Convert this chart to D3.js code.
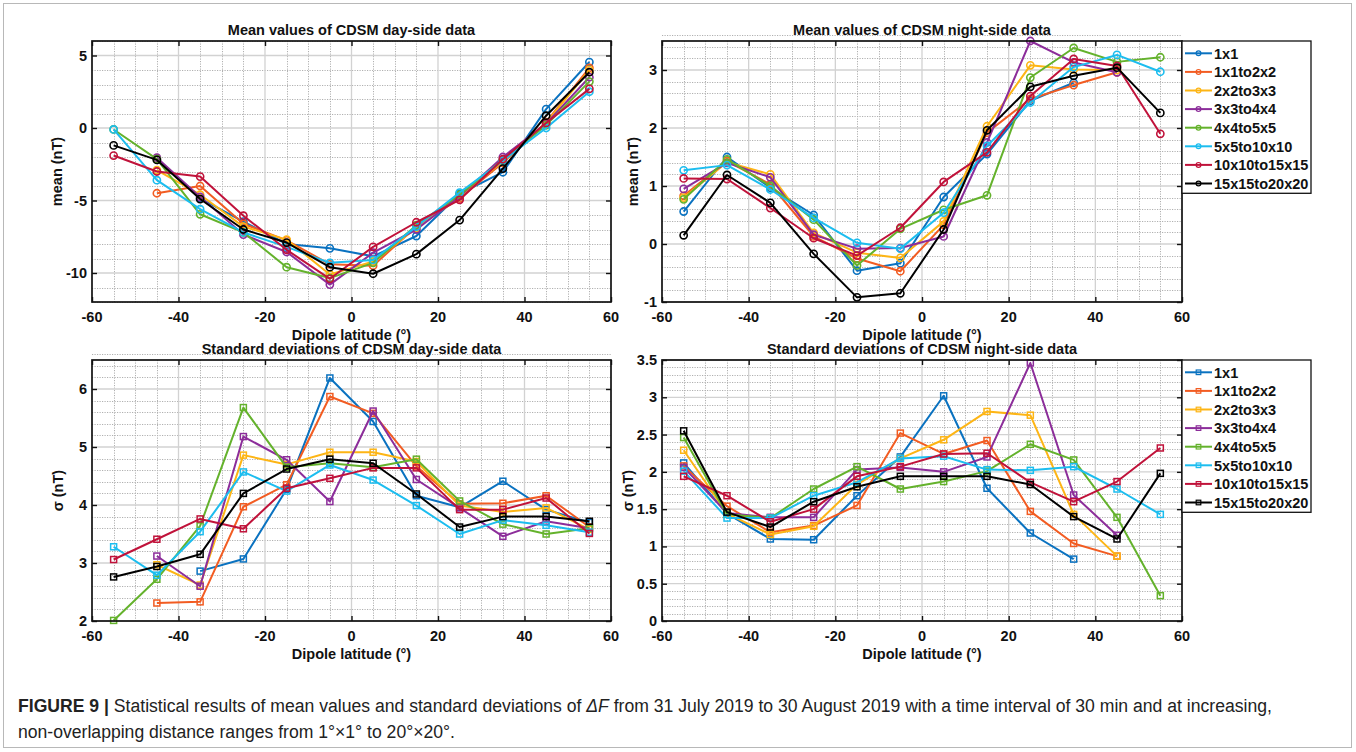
<!DOCTYPE html>
<html>
<head>
<meta charset="utf-8">
<script src="https://cdn.jsdelivr.net/npm/d3@7"></script>
<style>
  body { margin: 0; background: #fff; }
  svg { display: block; }
  text { font-family: "Liberation Sans", Arial, Helvetica, sans-serif; }
</style>
</head>
<body>
<svg id="fig" width="1356" height="752"></svg>
<script>
// Dipole latitude bin centres (degrees)
const latitudes = [-55, -45, -35, -25, -15, -5, 5, 15, 25, 35, 45, 55];

// Distance-range groups and their line colours
const seriesNames = ["1x1", "1x1to2x2", "2x2to3x3", "3x3to4x4", "4x4to5x5",
                     "5x5to10x10", "10x10to15x15", "15x15to20x20"];
const seriesColors = ["#0a72c0", "#f25c22", "#fdb515", "#8c2d9a",
                      "#64b22c", "#1cbdef", "#c0123a", "#000000"];

// Axis ticks
const xTicks = [-60, -40, -20, 0, 20, 40, 60];
const meanDayTicks = [-10, -5, 0, 5];
const meanNightTicks = [-1, 0, 1, 2, 3];
const stdDayTicks = [2, 3, 4, 5, 6];
const stdNightTicks = [0, 0.5, 1, 1.5, 2, 2.5, 3, 3.5];

// Mean ΔF, day side (nT) — one row per distance range, null = no data
const meanDay = [
  [null, null, -4.85, -6.45, -8.0, -8.3, -8.85, -7.45, -4.55, -3.05, 1.3, 4.55],
  [null, -4.5, -4.0, -6.6, -7.75, -9.4, -9.5, -6.8, -4.85, -2.4, 0.4, 4.15],
  [null, -2.9, -4.6, -6.8, -7.7, -10.1, -9.2, -6.9, -4.7, -2.3, 0.35, 4.0],
  [null, -2.05, -4.75, -7.35, -8.55, -10.8, -8.6, -7.0, -4.7, -2.0, 0.3, 3.5],
  [-0.1, -2.15, -5.95, -7.2, -9.6, -10.35, -9.3, -6.7, -4.6, -2.2, 0.2, 3.2],
  [-0.1, -3.6, -5.6, -7.2, -8.2, -9.3, -9.1, -6.8, -4.45, -2.25, 0.0, 2.5],
  [-1.9, -3.0, -3.35, -6.05, -8.4, -10.4, -8.2, -6.5, -4.95, -2.15, 0.35, 2.7],
  [-1.2, -2.2, -4.9, -7.0, -7.9, -9.6, -10.05, -8.7, -6.35, -2.8, 0.85, 3.85]
];

// Mean ΔF, night side (nT)
const meanNight = [
  [0.56, 1.5, 0.97, 0.5, -0.46, -0.33, 0.81, 1.55, 2.47, 2.78, null, null],
  [0.83, 1.43, 1.03, 0.13, -0.25, -0.47, 0.33, 1.92, 2.5, 2.74, 2.96, null],
  [0.8, 1.41, 1.2, 0.19, -0.15, -0.24, 0.39, 2.03, 3.08, 3.01, 3.0, null],
  [0.95, 1.4, 1.15, 0.16, -0.08, -0.07, 0.13, 1.75, 3.5, 3.13, 2.96, null],
  [0.77, 1.46, 1.0, 0.42, -0.37, 0.26, 0.59, 0.84, 2.87, 3.38, 3.14, 3.22],
  [1.27, 1.36, 0.94, 0.45, 0.02, -0.08, 0.54, 1.69, 2.44, 3.05, 3.26, 2.97],
  [1.13, 1.12, 0.62, 0.1, -0.2, 0.28, 1.07, 1.58, 2.55, 3.19, 3.07, 1.9],
  [0.15, 1.19, 0.71, -0.17, -0.92, -0.85, 0.25, 1.96, 2.71, 2.9, 3.04, 2.26]
];

// Standard deviation of ΔF, day side (nT)
const stdDay = [
  [null, null, 2.86, 3.07, 4.27, 6.19, 5.44, 4.16, 3.96, 4.41, 3.92, 3.7],
  [null, 2.31, 2.33, 3.97, 4.35, 5.87, 5.58, 4.67, 4.02, 4.03, 4.16, 3.62],
  [null, 2.97, 2.62, 4.86, 4.7, 4.91, 4.91, 4.75, 3.99, 3.88, 3.95, 3.58],
  [null, 3.12, 2.6, 5.18, 4.78, 4.06, 5.62, 4.44, 3.95, 3.46, 3.72, 3.6],
  [2.01, 2.72, 3.64, 5.68, 4.65, 4.72, 4.65, 4.79, 4.07, 3.67, 3.5, 3.6],
  [3.28, 2.79, 3.54, 4.57, 4.24, 4.69, 4.43, 3.99, 3.5, 3.74, 3.65, 3.53],
  [3.06, 3.41, 3.76, 3.59, 4.29, 4.46, 4.64, 4.64, 3.92, 3.92, 4.12, 3.51],
  [2.76, 2.94, 3.15, 4.2, 4.62, 4.79, 4.72, 4.19, 3.62, 3.8, 3.8, 3.72]
];

// Standard deviation of ΔF, night side (nT)
const stdNight = [
  [2.12, 1.44, 1.1, 1.09, 1.68, 2.2, 3.02, 1.78, 1.18, 0.83, null, null],
  [2.08, 1.54, 1.19, 1.28, 1.55, 2.52, 2.24, 2.42, 1.47, 1.04, 0.87, null],
  [2.29, 1.44, 1.16, 1.27, 1.83, 2.18, 2.43, 2.81, 2.76, 1.43, 0.87, null],
  [2.06, 1.45, 1.39, 1.39, 2.03, 2.06, 2.0, 2.2, 3.46, 1.69, 1.15, null],
  [2.46, 1.43, 1.38, 1.77, 2.07, 1.77, 1.87, 2.01, 2.37, 2.16, 1.39, 0.34],
  [2.01, 1.38, 1.38, 1.68, 1.86, 2.18, 2.21, 2.03, 2.02, 2.07, 1.77, 1.43],
  [1.94, 1.68, 1.33, 1.5, 1.94, 2.07, 2.24, 2.25, 1.86, 1.6, 1.87, 2.32],
  [2.55, 1.46, 1.26, 1.6, 1.8, 1.94, 1.94, 1.94, 1.83, 1.4, 1.1, 1.98]
];

const svg = d3.select("#fig");
const FS = 14.5;   // axis text size

// Figure frame
svg.append("rect").attr("x", 3.5).attr("y", 3.5).attr("width", 1348).attr("height", 744)
  .attr("fill", "#fff").attr("stroke", "#b8b8b8").attr("stroke-width", 1);

const panels = [
  { data: meanDay, left: 92, right: 611, top: 41, bottom: 302, yDomain: [-12, 6],
    yTicks: meanDayTicks, yMinor: 1, title: "Mean values of CDSM day-side data",
    ylabel: "mean (nT)", ylabelX: 57, marker: "circle", legend: false },
  { data: meanNight, left: 662, right: 1182, top: 41, bottom: 302, yDomain: [-1, 3.5],
    yTicks: meanNightTicks, yMinor: 0.2, title: "Mean values of CDSM night-side data",
    ylabel: "mean (nT)", ylabelX: 633, marker: "circle", legend: true },
  { data: stdDay, left: 92, right: 611, top: 360, bottom: 621, yDomain: [2, 6.5],
    yTicks: stdDayTicks, yMinor: 0.2, title: "Standard deviations of CDSM day-side data",
    ylabel: "σ (nT)", ylabelX: 58, marker: "square", legend: false },
  { data: stdNight, left: 662, right: 1182, top: 360, bottom: 621, yDomain: [0, 3.5],
    yTicks: stdNightTicks, yMinor: 0.1, title: "Standard deviations of CDSM night-side data",
    ylabel: "σ (nT)", ylabelX: 628, marker: "square", legend: true }
];

function drawMarker(sel, kind, color) {
  if (kind === "circle") {
    sel.append("circle").attr("r", 3.6).attr("fill", "none")
      .attr("stroke", color).attr("stroke-width", 1.6);
  } else {
    sel.append("rect").attr("x", -3).attr("y", -3).attr("width", 6).attr("height", 6)
      .attr("fill", "none").attr("stroke", color).attr("stroke-width", 1.5);
  }
}

panels.forEach(p => {
  const g = svg.append("g");
  const x = d3.scaleLinear().domain([-60, 60]).range([p.left, p.right]);
  const y = d3.scaleLinear().domain(p.yDomain).range([p.bottom, p.top]);

  // minor grid (dotted)
  const xMinor = d3.range(-60, 60.001, 5).filter(v => v % 20 !== 0);
  const nMinor = Math.round((p.yDomain[1] - p.yDomain[0]) / p.yMinor);
  const yMinor = d3.range(0, nMinor + 1).map(i => +(p.yDomain[0] + i * p.yMinor).toFixed(4))
    .filter(v => !p.yTicks.some(t => Math.abs(t - v) < 1e-6));
  const minor = g.append("g").attr("stroke", "#b0b0b0").attr("stroke-width", 1)
    .attr("stroke-dasharray", "1.2,1.3");
  minor.selectAll("line.vx").data(xMinor).join("line")
    .attr("x1", d => Math.round(x(d)) + 0.5).attr("x2", d => Math.round(x(d)) + 0.5)
    .attr("y1", p.top).attr("y2", p.bottom);
  minor.selectAll("line.hy").data(yMinor).join("line")
    .attr("y1", d => Math.round(y(d)) + 0.5).attr("y2", d => Math.round(y(d)) + 0.5)
    .attr("x1", p.left).attr("x2", p.right);

  // major grid (solid, light)
  const major = g.append("g").attr("stroke", "#d2d2d2").attr("stroke-width", 1.3);
  major.selectAll("line.mx").data(xTicks.slice(1, -1)).join("line")
    .attr("x1", d => x(d)).attr("x2", d => x(d)).attr("y1", p.top).attr("y2", p.bottom);
  major.selectAll("line.my").data(p.yTicks).join("line")
    .attr("y1", d => y(d)).attr("y2", d => y(d)).attr("x1", p.left).attr("x2", p.right);

  // series lines and markers
  const line = d3.line().defined(d => d[1] != null).x(d => x(d[0])).y(d => y(d[1]));
  p.data.forEach((vals, i) => {
    const pts = latitudes.map((lat, k) => [lat, vals[k]]);
    g.append("path").datum(pts).attr("d", line).attr("fill", "none")
      .attr("stroke", seriesColors[i]).attr("stroke-width", 2).attr("stroke-linejoin", "round");
    const mk = g.append("g");
    pts.filter(d => d[1] != null).forEach(d => {
      const m = mk.append("g").attr("transform", `translate(${x(d[0])},${y(d[1])})`);
      drawMarker(m, p.marker, seriesColors[i]);
    });
  });

  // axes with inward ticks on all four sides
  const tickLen = 5;
  const axisG = g.append("g");
  axisG.append("g").attr("transform", `translate(0,${p.bottom})`)
    .call(d3.axisBottom(x).tickValues(xTicks).tickSizeInner(-tickLen).tickSizeOuter(0).tickFormat(""));
  axisG.append("g").attr("transform", `translate(0,${p.top})`)
    .call(d3.axisTop(x).tickValues(xTicks).tickSizeInner(-tickLen).tickSizeOuter(0).tickFormat(""));
  axisG.append("g").attr("transform", `translate(${p.left},0)`)
    .call(d3.axisLeft(y).tickValues(p.yTicks).tickSizeInner(-tickLen).tickSizeOuter(0).tickFormat(""));
  axisG.append("g").attr("transform", `translate(${p.right},0)`)
    .call(d3.axisRight(y).tickValues(p.yTicks).tickSizeInner(-tickLen).tickSizeOuter(0).tickFormat(""));
  axisG.selectAll(".domain").remove();
  axisG.selectAll(".tick line").attr("stroke", "#111").attr("stroke-width", 1.4);

  g.append("rect").attr("x", p.left).attr("y", p.top)
    .attr("width", p.right - p.left).attr("height", p.bottom - p.top)
    .attr("fill", "none").attr("stroke", "#111").attr("stroke-width", 1.7);

  // tick labels
  g.selectAll("text.xl").data(xTicks).join("text")
    .attr("x", d => x(d)).attr("y", p.bottom + 20).attr("text-anchor", "middle")
    .attr("font-size", FS).attr("font-weight", "bold").attr("fill", "#111")
    .text(d => String(d));
  g.selectAll("text.yl").data(p.yTicks).join("text")
    .attr("x", p.left - 5).attr("y", d => y(d) + 5).attr("text-anchor", "end")
    .attr("font-size", FS).attr("font-weight", "bold").attr("fill", "#111")
    .text(d => String(d));

  // title and axis labels
  g.append("text").attr("x", (p.left + p.right) / 2).attr("y", p.top - 6)
    .attr("text-anchor", "middle").attr("font-size", FS).attr("font-weight", "bold")
    .attr("fill", "#111").text(p.title);
  g.append("text").attr("x", (p.left + p.right) / 2).attr("y", p.bottom + 38)
    .attr("text-anchor", "middle").attr("font-size", FS).attr("font-weight", "bold")
    .attr("fill", "#111").text("Dipole latitude (°)");
  g.append("text")
    .attr("transform", `translate(${p.ylabelX + 5},${(p.top + p.bottom) / 2}) rotate(-90)`)
    .attr("text-anchor", "middle").attr("font-size", FS).attr("font-weight", "bold")
    .attr("fill", "#111").text(p.ylabel);

  // legend
  if (p.legend) {
    const lx = p.right, lw = 129, rowH = 18.6;
    const lg = svg.append("g");
    lg.append("rect").attr("x", lx).attr("y", p.top).attr("width", lw)
      .attr("height", rowH * seriesNames.length + 3.5)
      .attr("fill", "#fff").attr("stroke", "#111").attr("stroke-width", 1.3);
    seriesNames.forEach((name, i) => {
      const cy = p.top + 12.3 + i * rowH;
      lg.append("line").attr("x1", lx + 3).attr("x2", lx + 30).attr("y1", cy).attr("y2", cy)
        .attr("stroke", seriesColors[i]).attr("stroke-width", 2);
      const m = lg.append("g").attr("transform", `translate(${lx + 16.5},${cy})`);
      if (p.marker === "circle") {
        m.append("circle").attr("r", 2.4).attr("fill", "none")
          .attr("stroke", seriesColors[i]).attr("stroke-width", 1.2);
      } else {
        m.append("rect").attr("x", -2.3).attr("y", -2.3).attr("width", 4.6).attr("height", 4.6)
          .attr("fill", "none").attr("stroke", seriesColors[i]).attr("stroke-width", 1.2);
      }
      lg.append("text").attr("x", lx + 32).attr("y", cy + 5.2)
        .attr("font-size", FS).attr("font-weight", "bold").attr("fill", "#111").text(name);
    });
  }
});

// caption
const CAP = 17.6;
const cap = svg.append("text").attr("x", 18).attr("y", 712)
  .attr("font-size", CAP).attr("fill", "#222");
cap.append("tspan").attr("font-weight", "bold").text("FIGURE 9 | ");
cap.append("tspan").text("Statistical results of mean values and standard deviations of ");
cap.append("tspan").attr("font-style", "italic").text("ΔF");
cap.append("tspan").text(" from 31 July 2019 to 30 August 2019 with a time interval of 30 min and at increasing,");
svg.append("text").attr("x", 18).attr("y", 738).attr("font-size", CAP).attr("fill", "#222")
  .text("non-overlapping distance ranges from 1°×1° to 20°×20°.");
</script>
</body>
</html>
